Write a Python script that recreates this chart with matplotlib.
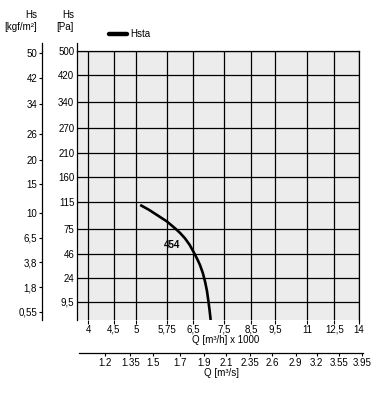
import numpy as np
import matplotlib
matplotlib.use("Agg")
import matplotlib.pyplot as plt
from matplotlib.lines import Line2D
from matplotlib.ticker import NullLocator

plt.rcParams['font.family'] = ['Liberation Sans', 'DejaVu Sans']

# Datos
q_ticks = [4, 4.5, 5, 5.75, 6.5, 7.5, 8.5, 9.5, 11, 12.5, 14]
q_labels = ["4", "4,5", "5", "5,75", "6,5", "7,5", "8,5", "9,5", "11", "12,5", "14"]
qs_ticks = [1.2, 1.35, 1.5, 1.7, 1.9, 2.1, 2.35, 2.6, 2.9, 3.2, 3.55, 3.95]
qs_labels = ["1.2", "1.35", "1.5", "1.7", "1.9", "2.1", "2.35", "2.6", "2.9", "3.2", "3.55", "3.95"]
pa_ticks = [500, 420, 340, 270, 210, 160, 115, 75, 46, 24, 9.5]
pa_labels = ["500", "420", "340", "270", "210", "160", "115", "75", "46", "24", "9,5"]
kgf_ticks = [50, 42, 34, 26, 20, 15, 10, 6.5, 3.8, 1.8, 0.55]
kgf_labels = ["50", "42", "34", "26", "20", "15", "10", "6,5", "3,8", "1,8", "0,55"]

# curva 454 (Q en m3/h x 1000, Hs en Pa)
curva_q = [5.09, 5.30, 5.50, 5.75, 5.98, 6.12, 6.26, 6.40, 6.51, 6.62, 6.71, 6.80, 6.87, 6.93, 6.98, 7.02, 7.05]
curva_h = [110.7, 103.0, 95.1, 86.0, 76.2, 70.1, 63.4, 55.5, 48.1, 41.0, 35.0, 28.0, 21.5, 15.5, 9.6, 5.5, 2.86]

W, H = 382, 396
fig = plt.figure(figsize=(W / 100, H / 100), dpi=100)
x0, x1, y0, y1 = 77, 359, 50.7, 320
qmin, qmax = 3.8, 14
hmin, hmax = 2.86, 500
ax = fig.add_axes([x0 / W, 1 - y1 / H, (x1 - x0) / W, (y1 - y0) / H])
ax.set_facecolor('#ececec')

fs = 7
raiz = (lambda v: np.sqrt(np.maximum(v, 0)), np.square)

ax.set_xscale('log')
ax.set_yscale('function', functions=raiz)
ax.set_xlim(qmin, qmax)
ax.set_ylim(hmin, hmax)

ax.set_xticks(q_ticks)
ax.set_xticklabels(q_labels, fontsize=fs)
ax.xaxis.set_minor_locator(NullLocator())
ax.set_yticks(pa_ticks)
ax.set_yticklabels(pa_labels, fontsize=fs)
ax.yaxis.set_minor_locator(NullLocator())
ax.tick_params(axis='x', direction='out', length=3, width=0.8, pad=0.5)
ax.tick_params(axis='y', length=0, pad=2)
ax.grid(True, color='black', lw=0.9)
ax.set_axisbelow(True)
ax.spines['bottom'].set_visible(False)
for s in ['top', 'right', 'left']:
    ax.spines[s].set_linewidth(0.9)
ax.set_xlabel("Q [m³/h] x 1000", fontsize=fs)
ax.xaxis.set_label_coords(0.528, -0.055)

ax.plot(curva_q, curva_h, color='black', lw=1.9, solid_capstyle='butt', solid_joinstyle='round')
ax.text(5.89, 55.5, "454", fontsize=fs, fontweight='bold', ha='center', va='center')

# eje inferior en m3/s (misma escala log, un poco mas largo)
dec = (x1 - x0) / np.log10(qmax / qmin)
sx0, sx1, sy_ = 79, 363, 353
sax = fig.add_axes([sx0 / W, 1 - sy_ / H, (sx1 - sx0) / W, 0.0001])
sax.set_xscale('log')
sax.set_xlim(qmin * 10 ** ((sx0 - x0) / dec) / 3.6, qmin * 10 ** ((sx1 - x0) / dec) / 3.6)
sax.set_xticks(qs_ticks)
sax.set_xticklabels(qs_labels, fontsize=fs)
sax.xaxis.set_minor_locator(NullLocator())
sax.set_yticks([])
sax.patch.set_visible(False)
for s in ['top', 'right', 'left']:
    sax.spines[s].set_visible(False)
sax.spines['bottom'].set_linewidth(0.9)
sax.tick_params(direction='out', length=2, width=0.8, pad=1.5)
sax.set_xlabel("Q [m³/s]", fontsize=fs, labelpad=0)

# eje kgf/m2 (misma escala raiz)
kax = fig.add_axes([42 / W, 1 - y1 / H, 0.0001, (y1 - y0) / H])
kax.set_yscale('function', functions=raiz)
kax.set_ylim(hmin / 9.81, hmax / 9.81)
kax.set_yticks(kgf_ticks)
kax.set_yticklabels(kgf_labels, fontsize=fs)
kax.yaxis.set_minor_locator(NullLocator())
kax.set_xticks([])
kax.patch.set_visible(False)
for s in ['top', 'right', 'bottom']:
    kax.spines[s].set_visible(False)
kax.spines['left'].set_linewidth(0.9)
kax.tick_params(direction='out', length=2, width=0.8, pad=1.5)

# prolongacion de los ejes verticales por arriba
for xp in [42, x0]:
    fig.add_artist(Line2D([xp / W, xp / W], [1 - 43 / H, 1 - y0 / H],
                          transform=fig.transFigure, color='black', lw=0.9))

# encabezados
fig.text(37 / W, 1 - 15 / H, "Hs", fontsize=fs, ha='right', va='center')
fig.text(37 / W, 1 - 27 / H, "[kgf/m²]", fontsize=fs, ha='right', va='center')
fig.text(74 / W, 1 - 15 / H, "Hs", fontsize=fs, ha='right', va='center')
fig.text(74 / W, 1 - 27 / H, "[Pa]", fontsize=fs, ha='right', va='center')

handle = Line2D([], [], color='black', lw=3.2, solid_capstyle='round')
fig.legend([handle], ["Hsta"], loc='center left', bbox_to_anchor=(109 / W, 1 - 34 / H),
           frameon=False, fontsize=fs, borderpad=0, borderaxespad=0,
           handlelength=1.9, handletextpad=0.3)

fig.savefig("out.png", dpi=100)
